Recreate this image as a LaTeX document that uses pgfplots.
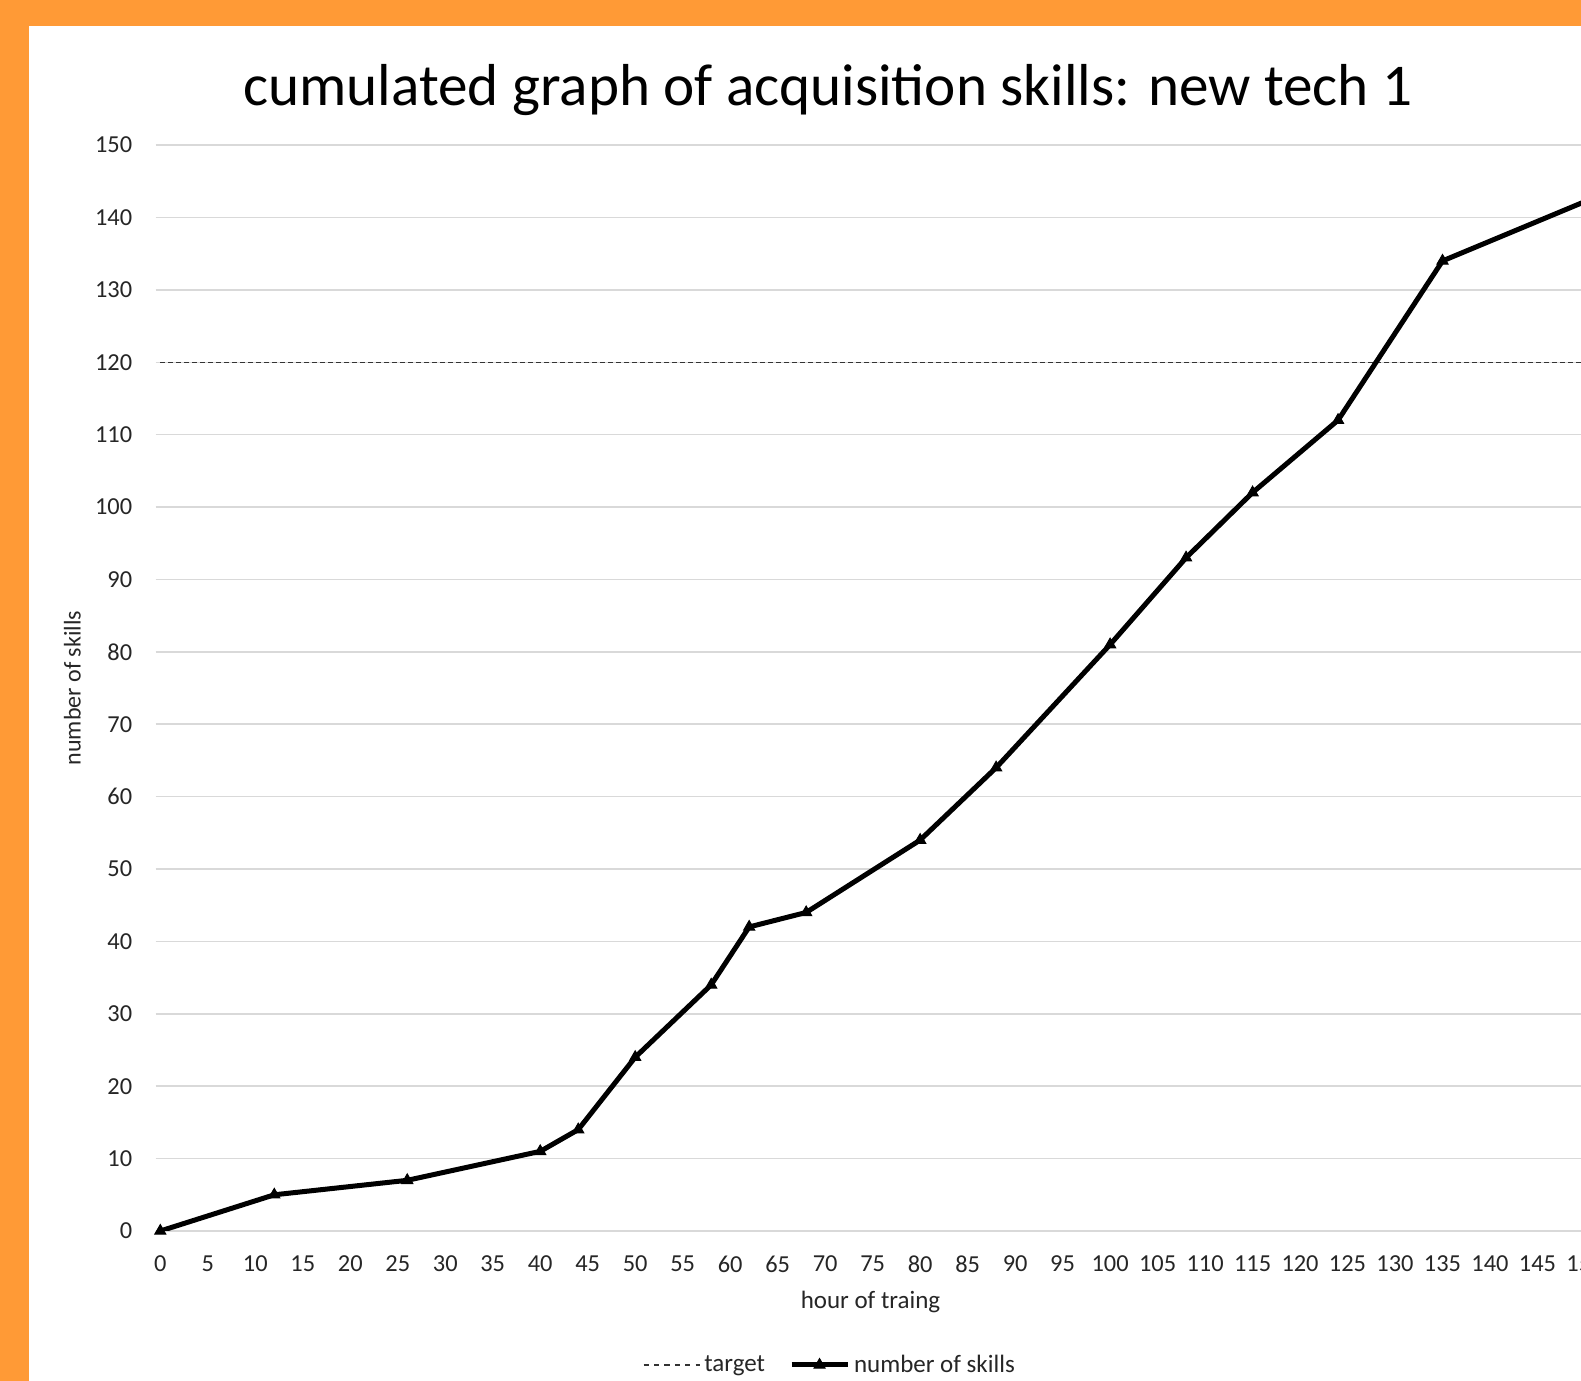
\documentclass[border=0pt]{standalone}
\usepackage{pgfplots}
\pgfplotsset{compat=1.18}
\usepackage{fontspec}
\setmainfont{Carlito}
\definecolor{borderorange}{HTML}{FF9A36}
\definecolor{gridgray}{HTML}{D9D9D9}
\definecolor{ticktext}{HTML}{262626}
\begin{document}
\begin{tikzpicture}
\useasboundingbox (0pt,0pt) rectangle (790.5pt,690.5pt);
\clip (0pt,0pt) rectangle (790.5pt,690.5pt);
\fill[borderorange] (0pt,0pt) rectangle (790.5pt,690.5pt);
\fill[white] (14.5pt,0pt) rectangle (790.5pt,677.5pt);
\begin{axis}[
  at={(77.78pt,75pt)}, anchor=south west,
  scale only axis, width=762.2pt, height=542.95pt,
  xmin=-0.5, xmax=160, ymin=0, ymax=150,
  xtick distance=5, ytick distance=10,
  ymajorgrids, grid style={gridgray, line width=0.75pt},
  axis line style={draw=none}, tick style={draw=none},
  /pgf/number format/assume math mode=true,
  ticklabel style={font=\fontsize{12.2pt}{14pt}\selectfont, text=ticktext},
  xticklabel style={anchor=center, inner sep=0pt, yshift=-16.5pt},
  yticklabel style={anchor=east, inner sep=0pt, xshift=-11.5pt},
  title={cumulated graph of acquisition skills: new tech 1},
  title style={at={(axis description cs:0.4411,1.025)}, anchor=base, font=\fontsize{29.6pt}{34pt}\selectfont, text=black},
  xlabel={hour of traing},
  xlabel style={at={(axis description cs:0.469,-0.0654)}, anchor=center, font=\fontsize{12.5pt}{15pt}\selectfont, text=ticktext},
  ylabel={number of skills},
  ylabel style={at={(axis description cs:-0.0545,0.5)}, anchor=center, rotate=0, font=\fontsize{12pt}{14pt}\selectfont, text=ticktext},
  legend columns=2,
  legend style={at={(axis description cs:0.443,-0.1234)}, anchor=center, draw=none, fill=none,
    font=\fontsize{12.5pt}{15pt}\selectfont, text=ticktext,
    /tikz/every even column/.append style={column sep=10pt}},
  legend image code/.code={\draw[mark repeat=2,mark phase=2,#1] plot coordinates {(0pt,0pt)(14pt,0pt)(28pt,0pt)};},
]
\addplot[black!80, line width=0.75pt, dash pattern=on 2.4pt off 1.6pt,
  legend image post style={dash pattern=on 2.6pt off 2.6pt}] coordinates {(0,120) (160,120)};
\addlegendentry{target}
\addplot[black, line width=2.5pt, mark=triangle*, mark size=3.2pt, mark options={solid, line width=0.5pt}] coordinates {
(0,0) (12,5) (26,7) (40,11) (44,14) (50,24) (58,34) (62,42) (68,44) (80,54)
(88,64) (100,81) (108,93) (115,102) (124,112) (135,134) (150,142.2)
};
\addlegendentry{number of skills}
\end{axis}
\end{tikzpicture}
\end{document}
